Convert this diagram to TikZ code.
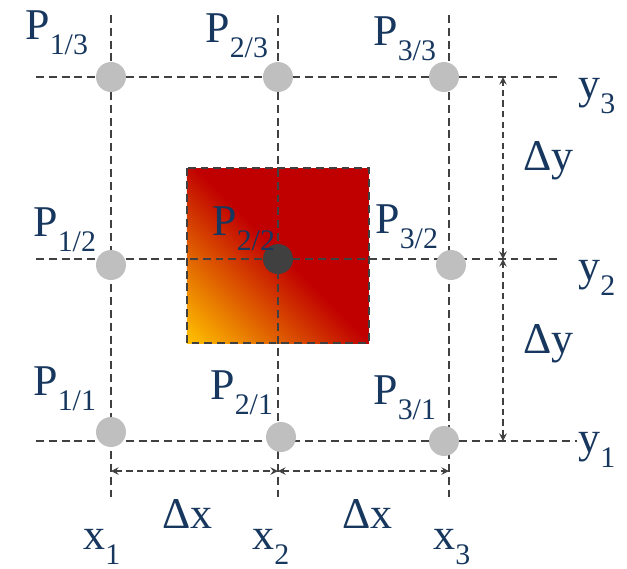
\documentclass[tikz,border=0pt]{standalone}
\usepackage{fontspec}
\setmainfont{Liberation Serif}
\usetikzlibrary{arrows}
\definecolor{ink}{HTML}{17375E}
\definecolor{gridgray}{HTML}{404040}
\definecolor{dotgray}{HTML}{BFBFBF}
\definecolor{cellred}{HTML}{C00000}
\definecolor{cellyellow}{HTML}{FFC000}
\pgfdeclareverticalshading{cellshade}{100bp}{color(0bp)=(cellyellow); color(15bp)=(cellyellow); color(51bp)=(cellred); color(100bp)=(cellred)}
\newcommand{\lowsub}[1]{\raisebox{-9pt}{\fontsize{17}{17}\selectfont#1}}
\begin{document}
\begin{tikzpicture}[
  x=0.02cm,y=-0.02cm,
  >=stealth,
  gridline/.style={gridgray,line width=1.1pt,dash pattern=on 4.5pt off 2.8pt},
  dimline/.style={<->,gridgray,line width=0.9pt,dash pattern=on 3.5pt off 2.5pt},
  dot/.style={circle,fill=dotgray,minimum size=6mm,inner sep=0pt},
  lbl/.style={text=ink,font=\fontsize{25}{30}\selectfont,inner sep=0pt,anchor=base west}
]
\useasboundingbox (0,0) rectangle (627,569);
% cell
\shade[shading=cellshade,shading angle=-45] (187,168) rectangle (369,343);
% grid
\foreach \x [count=\i] in {111,278,449} {
  \coordinate (top\i) at (\x,15);
  \coordinate (bot\i) at (\x,500);
}
\foreach \y [count=\i] in {441,259,77} {
  \coordinate (left\i) at (36,\y);
  \coordinate (right\i) at (560,\y);
}
\coordinate (right1) at (577,441);
\draw[gridline] (top1)--(bot1);
\draw[gridline] (top2)--(bot2);
\draw[gridline] (top3)--(bot3);
\draw[gridline] (left1)--(right1);
\draw[gridline] (left2)--(right2);
\draw[gridline] (left3)--(right3);
\draw[gridline] (187,168) rectangle (369,343);
% points
\node[dot] (p11) at (111,432) {};
\node[dot] (p21) at (281,437) {};
\node[dot] (p31) at (444,441) {};
\node[dot] (p12) at (111,265) {};
\node[dot,fill=gridgray] (p22) at (278,259) {};
\node[dot] (p32) at (451,265) {};
\node[dot] (p13) at (111,77) {};
\node[dot] (p23) at (278,77) {};
\node[dot] (p33) at (444,77) {};
% dimensions
\coordinate (dy1) at (503,441);
\coordinate (dy2) at (503,259);
\coordinate (dy3) at (503,77);
\coordinate (dx1) at (111,471);
\coordinate (dx2) at (278,471);
\coordinate (dx3) at (449,471);
\draw[dimline] (dy2)--(dy3);
\draw[dimline] (dy1)--(dy2);
\draw[dimline] (dx1)--(dx2);
\draw[dimline] (dx2)--(dx3);
% labels
\node[lbl] (l13) at (25,39) {P\lowsub{1/3}};
\node[lbl] (l23) at (205,42) {P\lowsub{2/3}};
\node[lbl] (l33) at (373,45) {P\lowsub{3/3}};
\node[lbl] (l12) at (33,236) {P\lowsub{1/2}};
\node[lbl] (l22) at (212,235) {P\lowsub{2/2}};
\node[lbl] (l32) at (375,233) {P\lowsub{3/2}};
\node[lbl] (l11) at (33,395) {P\lowsub{1/1}};
\node[lbl] (l21) at (210,399) {P\lowsub{2/1}};
\node[lbl] (l31) at (373,404) {P\lowsub{3/1}};
\node[lbl] (ly3) at (578,98) {y\lowsub{3}};
\node[lbl] (ly2) at (578,280) {y\lowsub{2}};
\node[lbl] (ly1) at (578,452) {y\lowsub{1}};
\node[lbl] (dyt) at (523,170) {Δy};
\node[lbl] (dyb) at (523,353) {Δy};
\node[lbl] (dxl) at (162,528) {Δx};
\node[lbl] (dxr) at (342,528) {Δx};
\node[lbl] (lx1) at (83,549) {x\lowsub{1}};
\node[lbl] (lx2) at (252,549) {x\lowsub{2}};
\node[lbl] (lx3) at (433,549) {x\lowsub{3}};
\end{tikzpicture}
\end{document}
